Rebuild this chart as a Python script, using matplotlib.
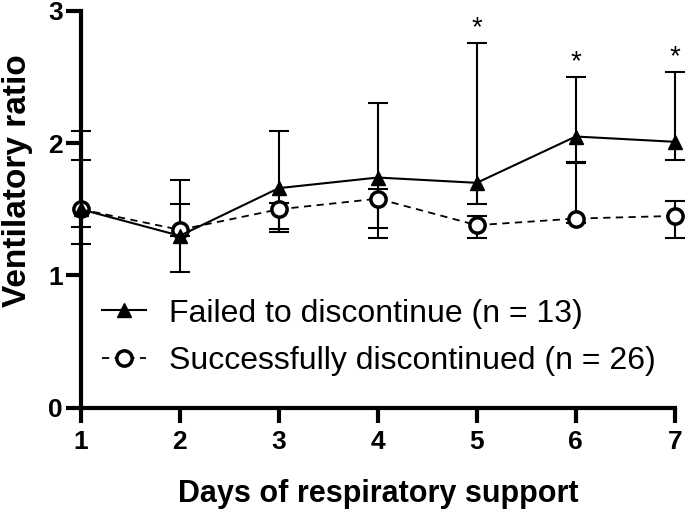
import matplotlib
matplotlib.use("Agg")
import matplotlib.pyplot as plt
from matplotlib.lines import Line2D

plt.rcParams['font.family'] = ['Liberation Sans', 'DejaVu Sans']

days = [1, 2, 3, 4, 5, 6, 7]

# failed to discontinue (median, lower, upper)
failed = [1.50, 1.30, 1.66, 1.74, 1.70, 2.05, 2.01]
failed_lo = [1.24, 1.03, 1.33, 1.36, 1.54, 1.85, 1.87]
failed_hi = [2.09, 1.72, 2.09, 2.30, 2.76, 2.50, 2.54]

# successfully discontinued
success = [1.50, 1.345, 1.50, 1.58, 1.38, 1.43, 1.45]
success_lo = [1.37, 1.30, 1.35, 1.28, 1.28, 1.40, 1.28]
success_hi = [1.87, 1.54, 1.55, 1.65, 1.45, 1.86, 1.56]

star_days = [5, 6, 7]

fig = plt.figure(figsize=(6.85, 5.13), dpi=100)
ax = fig.add_axes([0.118, 0.205, 0.867, 0.774])

f_err = [[m - l for m, l in zip(failed, failed_lo)], [h - m for m, h in zip(failed, failed_hi)]]
s_err = [[m - l for m, l in zip(success, success_lo)], [h - m for m, h in zip(success, success_hi)]]

ax.errorbar(days, success, yerr=s_err, fmt='none', ecolor='black', elinewidth=1.5,
            capsize=7, capthick=1.5, zorder=2, clip_on=False)
ax.errorbar(days, failed, yerr=f_err, fmt='none', ecolor='black', elinewidth=1.5,
            capsize=7, capthick=1.5, zorder=2, clip_on=False)
ax.plot(days, success, color='black', ls=(0, (4, 3)), lw=1.3, marker='o', ms=11,
        mfc='white', mec='black', mew=2.5, zorder=3, clip_on=False)
ax.plot(days, failed, color='black', ls='-', lw=1.5, marker='^', ms=10,
        mfc='black', mec='black', zorder=4, clip_on=False)

for d in star_days:
    i = days.index(d)
    ax.text(d, failed_hi[i] + 0.01, '*', ha='center', va='bottom', fontsize=20)

ax.set_xlim(1, 7)
ax.set_ylim(0, 3)
ax.set_xticks(days)
ax.set_yticks([0, 1, 2, 3])
for s in ['top', 'right']:
    ax.spines[s].set_visible(False)
for s in ['left', 'bottom']:
    ax.spines[s].set_linewidth(3)
ax.tick_params(axis='y', length=11, width=3, labelsize=19, pad=2)
ax.tick_params(axis='x', length=11, width=3, labelsize=19, pad=5)
for lab in ax.get_xticklabels() + ax.get_yticklabels():
    lab.set_fontweight('bold')

ax.set_ylabel('Ventilatory ratio', fontsize=24, fontweight='bold')
ax.yaxis.set_label_coords(-0.08, 0.572)
ax.set_xlabel('Days of respiratory support', fontsize=22, fontweight='bold', labelpad=18)

handles = [
    Line2D([], [], color='black', ls='-', lw=1.5, marker='^', ms=10),
    Line2D([], [], color='black', ls=(0, (4, 3)), lw=1.3, marker='o', ms=11,
           mfc='white', mew=2.5),
]
ax.legend(handles, ['Failed to discontinue (n = 13)', 'Successfully discontinued (n = 26)'],
          loc='upper left', bbox_to_anchor=(0.035, 0.275), frameon=False, fontsize=23,
          handlelength=1.4, handletextpad=0.7, labelspacing=0.55,
          borderpad=0, borderaxespad=0)

fig.savefig('out.png', dpi=100)
